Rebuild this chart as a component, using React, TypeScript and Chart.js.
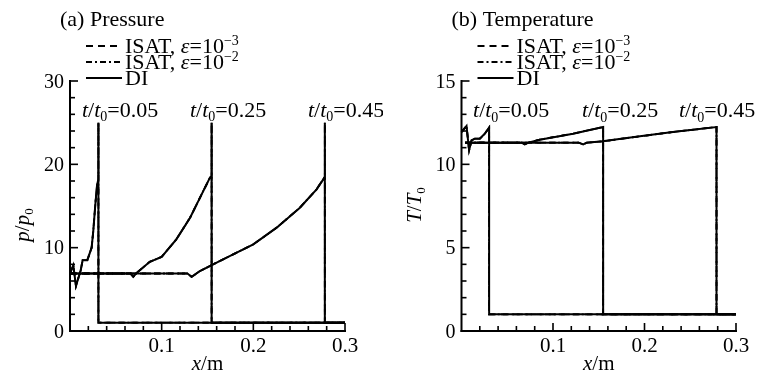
import React, { useEffect, useRef } from "react";
import { Chart, registerables } from "chart.js";

Chart.register(...registerables);

// ---------- data ----------
const xMajorTicks = [0.1, 0.2, 0.3];
const xTickLabels = ["0.1", "0.2", "0.3"];
const xMinorTicks = [0.02, 0.04, 0.06, 0.08, 0.1, 0.12, 0.14, 0.16, 0.18, 0.2, 0.22, 0.24, 0.26, 0.28, 0.3];
const pressureTicks = [0, 10, 20, 30];
const pressureMinorTicks = [2, 4, 6, 8, 10, 12, 14, 16, 18, 20, 22, 24, 26, 28, 30];
const temperatureTicks = [0, 5, 10, 15];
const temperatureMinorTicks = [1, 2, 3, 4, 5, 6, 7, 8, 9, 10, 11, 12, 13, 14, 15];
const timeLabels = ["0.05", "0.25", "0.45"];

// Pressure p/p0, t/t0 = 0.05, 0.25, 0.45
const p005X = [0, 0.0036, 0.0065, 0.0117, 0.0138, 0.0189, 0.0236, 0.0254, 0.0275, 0.0295, 0.031, 0.031, 0.031, 0.3];
const p005Y = [6.9, 7.9, 5.4, 7.3, 8.5, 8.5, 10, 12, 15, 17.5, 18.2, 25, 1, 1];
const p025X = [0, 0.066, 0.069, 0.073, 0.087, 0.1, 0.116, 0.131, 0.1436, 0.1527, 0.1545, 0.1545, 0.1545, 0.3];
const p025Y = [6.9, 6.9, 6.5, 7.0, 8.3, 8.9, 11, 13.6, 16.4, 18.4, 18.6, 25, 1, 1];
const p045X = [0, 0.128, 0.1327, 0.1418, 0.1545, 0.178, 0.2, 0.2254, 0.2508, 0.269, 0.2763, 0.278, 0.278, 0.278, 0.3];
const p045Y = [6.9, 6.9, 6.5, 7.2, 7.9, 9.2, 10.4, 12.4, 14.8, 17, 18.2, 18.5, 25, 1, 1];

// Temperature T/T0
const t005X = [0, 0.0055, 0.0083, 0.011, 0.0145, 0.02, 0.0255, 0.0302, 0.0302, 0.3];
const t005Y = [11.94, 12.3, 10.84, 11.44, 11.54, 11.54, 11.84, 12.2, 1, 1];
const t025X = [0.004, 0.066, 0.069, 0.073, 0.0855, 0.122, 0.1548, 0.1548, 0.3];
const t025Y = [11.3, 11.3, 11.2, 11.3, 11.48, 11.84, 12.24, 1, 1];
const t045X = [0.004, 0.128, 0.133, 0.137, 0.154, 0.195, 0.231, 0.2787, 0.2787, 0.3];
const t045Y = [11.3, 11.3, 11.2, 11.3, 11.38, 11.68, 11.94, 12.24, 1, 1];

// annotation anchors (data x) for the t/t0 labels
const pressureLabelX = [0.0131, 0.1309, 0.2596];
const temperatureLabelX = [0.0126, 0.1317, 0.2377];

const FONT = '"Liberation Serif", "Times New Roman", serif';

type Seg = { t: string; i?: boolean; sub?: boolean; sup?: boolean };

function fontFor(s: Seg, size: number) {
  const sz = s.sub || s.sup ? Math.round(size * 0.62) : size;
  return `${s.i ? "italic " : ""}${sz}px ${FONT}`;
}
function richWidth(ctx: CanvasRenderingContext2D, segs: Seg[], size: number) {
  let w = 0;
  for (const s of segs) {
    ctx.font = fontFor(s, size);
    w += ctx.measureText(s.t).width;
  }
  return w;
}
function drawRich(
  ctx: CanvasRenderingContext2D,
  segs: Seg[],
  x: number,
  cy: number,
  size: number,
  align: "left" | "center" | "right"
) {
  const w = richWidth(ctx, segs, size);
  let cx = align === "left" ? x : align === "center" ? x - w / 2 : x - w;
  const base = cy + size * 0.33;
  ctx.textAlign = "left";
  ctx.textBaseline = "alphabetic";
  for (const s of segs) {
    ctx.font = fontFor(s, size);
    const dy = s.sub ? size * 0.2 : s.sup ? -size * 0.38 : 0;
    ctx.fillText(s.t, cx, base + dy);
    cx += ctx.measureText(s.t).width;
  }
}

const legendEntries: { segs: Seg[]; dash: number[] }[] = [
  { segs: [{ t: "ISAT, " }, { t: "ε", i: true }, { t: "=10" }, { t: "−3", sup: true }], dash: [7, 5] },
  { segs: [{ t: "ISAT, " }, { t: "ε", i: true }, { t: "=10" }, { t: "−2", sup: true }], dash: [6, 3, 2, 3] },
  { segs: [{ t: "DI" }], dash: [] },
];

type PanelCfg = {
  width: number;
  padding: { left: number; right: number; top: number; bottom: number };
  yMax: number;
  yTicks: number[];
  yMinor: number[];
  title: string;
  yTitle: Seg[];
  yTitleX: number;
  yTitleY: number;
  series: { x: number[]; y: number[] }[];
  labelX: number[];
  labelY: number;
};

const panels: PanelCfg[] = [
  {
    width: 383,
    padding: { left: 70, right: 38, top: 81, bottom: 43 },
    yMax: 30,
    yTicks: pressureTicks,
    yMinor: pressureMinorTicks,
    title: "(a) Pressure",
    yTitle: [{ t: "p", i: true }, { t: "/" }, { t: "p", i: true }, { t: "0", sub: true }],
    yTitleX: 22,
    yTitleY: 225,
    series: [
      { x: p005X, y: p005Y },
      { x: p025X, y: p025Y },
      { x: p045X, y: p045Y },
    ],
    labelX: pressureLabelX,
    labelY: 26.6,
  },
  {
    width: 384,
    padding: { left: 78.5, right: 31, top: 81, bottom: 43 },
    yMax: 15,
    yTicks: temperatureTicks,
    yMinor: temperatureMinorTicks,
    title: "(b) Temperature",
    yTitle: [{ t: "T", i: true }, { t: "/" }, { t: "T", i: true }, { t: "0", sub: true }],
    yTitleX: 414 - 383,
    yTitleY: 205,
    series: [
      { x: t005X, y: t005Y },
      { x: t025X, y: t025Y },
      { x: t045X, y: t045Y },
    ],
    labelX: temperatureLabelX,
    labelY: 13.26,
  },
];

function makeDecor(cfg: PanelCfg) {
  return {
    id: "decor",
    afterDraw(chart: any) {
      const ctx: CanvasRenderingContext2D = chart.ctx;
      const xs = chart.scales.x;
      const ys = chart.scales.y;
      const { left, right, top, bottom } = chart.chartArea;
      ctx.save();
      ctx.strokeStyle = "#000";
      ctx.fillStyle = "#000";
      ctx.setLineDash([]);
      // axes (filled rects)
      ctx.fillRect(left - 1, top - 1, 2, bottom - top + 2);
      ctx.fillRect(left - 1, bottom - 1, right - left + 2, 2);
      // x ticks (inward)
      const majorX = new Set(xMajorTicks.map((v) => v.toFixed(3)));
      xMinorTicks.forEach((v) => {
        const px = xs.getPixelForValue(v);
        const len = majorX.has(v.toFixed(3)) ? 8 : 5;
        ctx.fillRect(px - 0.8, bottom - len, 1.6, len);
      });
      // y ticks (inward)
      const majorY = new Set(cfg.yTicks.map((v) => String(v)));
      cfg.yMinor.forEach((v) => {
        const py = ys.getPixelForValue(v);
        const len = majorY.has(String(v)) ? 8 : 5;
        ctx.fillRect(left, py - 0.8, len, 1.6);
      });
      // tick labels
      cfg.yTicks.forEach((v) => {
        drawRich(ctx, [{ t: String(v) }], left - 6, ys.getPixelForValue(v), 20, "right");
      });
      xMajorTicks.forEach((v, i) => {
        drawRich(ctx, [{ t: xTickLabels[i] }], xs.getPixelForValue(v), bottom + 14, 21, "center");
      });
      // axis titles
      drawRich(ctx, [{ t: "x", i: true }, { t: "/m" }], (left + right) / 2, bottom + 32, 21, "center");
      ctx.save();
      ctx.translate(cfg.yTitleX, cfg.yTitleY);
      ctx.rotate(-Math.PI / 2);
      drawRich(ctx, cfg.yTitle, 0, 0, 21, "center");
      ctx.restore();
      // title
      drawRich(ctx, [{ t: cfg.title }], left - 10, 19, 22, "left");
      // legend
      legendEntries.forEach((e, i) => {
        const cy = 46 + i * 16;
        ctx.lineWidth = 1.8;
        ctx.setLineDash(e.dash);
        ctx.beginPath();
        ctx.moveTo(left + 16, cy);
        ctx.lineTo(left + 52, cy);
        ctx.stroke();
        ctx.setLineDash([]);
        drawRich(ctx, e.segs, left + 55, cy, 22, "left");
      });
      // time labels
      timeLabels.forEach((lab, i) => {
        drawRich(
          ctx,
          [{ t: "t", i: true }, { t: "/" }, { t: "t", i: true }, { t: "0", sub: true }, { t: "=" + lab }],
          xs.getPixelForValue(cfg.labelX[i]),
          ys.getPixelForValue(cfg.labelY),
          22,
          "left"
        );
      });
      ctx.restore();
    },
  };
}

function Panel({ cfg, offset }: { cfg: PanelCfg; offset: number }) {
  const ref = useRef<HTMLCanvasElement>(null);
  useEffect(() => {
    if (!ref.current) return;
    const styles = [
      { dash: [7, 5], width: 1.8 },
      { dash: [6, 3, 2, 3], width: 1.8 },
      { dash: [], width: 2 },
    ];
    const datasets: any[] = [];
    styles.forEach((st) => {
      cfg.series.forEach((s) => {
        datasets.push({
          data: s.x.map((x, i) => ({ x, y: s.y[i] })),
          borderColor: "#000",
          borderWidth: st.width,
          borderDash: st.dash,
          pointRadius: 0,
          fill: false,
          tension: 0,
          clip: 4,
        });
      });
    });
    const chart = new Chart(ref.current, {
      type: "line",
      data: { datasets },
      options: {
        animation: false,
        responsive: false,
        maintainAspectRatio: false,
        layout: { padding: cfg.padding },
        scales: {
          x: { type: "linear", min: 0, max: 0.3, display: false },
          y: { type: "linear", min: 0, max: cfg.yMax, display: false },
        },
        plugins: { legend: { display: false }, tooltip: { enabled: false } },
        elements: { point: { radius: 0 } },
      },
      plugins: [makeDecor(cfg)],
    } as any);
    return () => chart.destroy();
  }, [cfg]);
  return (
    <canvas
      ref={ref}
      width={cfg.width}
      height={374}
      style={{ position: "absolute", left: offset, top: 0, width: cfg.width, height: 374 }}
    />
  );
}

export default function App() {
  return (
    <div style={{ position: "fixed", left: 0, top: 0, width: 767, height: 374, background: "#fff" }}>
      <Panel cfg={panels[0]} offset={0} />
      <Panel cfg={panels[1]} offset={383} />
    </div>
  );
}
